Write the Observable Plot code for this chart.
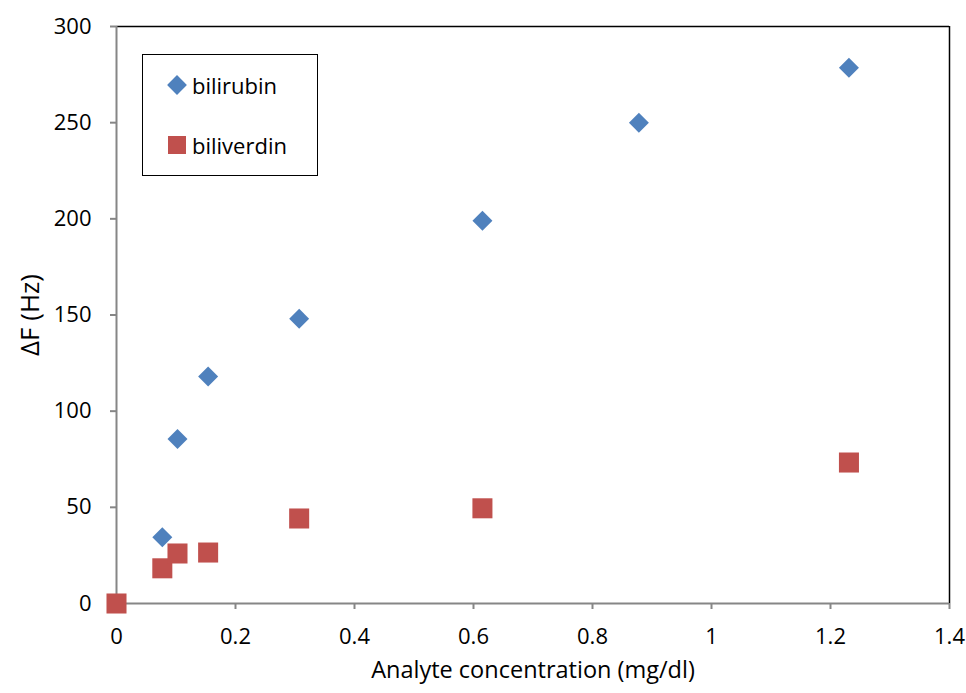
<!DOCTYPE html>
<html>
<head>
<meta charset="utf-8">
<script src="https://cdn.jsdelivr.net/npm/d3@7"></script>
<script src="https://cdn.jsdelivr.net/npm/@observablehq/plot@0.6"></script>
<style>
  html, body { margin: 0; padding: 0; background: #fff; }
  #wrap { position: relative; width: 966px; height: 693px; font-family: "Open Sans", Lato, sans-serif; }
  #legend { position: absolute; left: 142px; top: 54px; width: 176px; height: 122px; border: 1.5px solid #000; background: #fff; box-sizing: border-box; font-size: 22px; color: #000; }
  .li { position: absolute; left: 24px; display: flex; align-items: center; }
  .li svg { margin-right: 5px; }
</style>
</head>
<body>
<div id="wrap"></div>
<script>
const bilirubinX = [0.077, 0.1025, 0.154, 0.307, 0.615, 0.878, 1.231];
const bilirubinY = [34.5, 85.5, 118, 148, 199, 250, 278.5];
const biliverdinX = [0, 0.077, 0.1025, 0.154, 0.307, 0.615, 1.231];
const biliverdinY = [0, 18.3, 26, 26.5, 44.2, 49.5, 73.3];
const xTicks = [0, 0.2, 0.4, 0.6, 0.8, 1, 1.2, 1.4];
const yTicks = [0, 50, 100, 150, 200, 250, 300];
const seriesNames = ["bilirubin", "biliverdin"];
const colors = ["#4F81BD", "#C0504D"];
const xLabel = "Analyte concentration (mg/dl)";
const yLabel = "ΔF (Hz)";

const bilirubin = bilirubinX.map((x, i) => ({x, y: bilirubinY[i]}));
const biliverdin = biliverdinX.map((x, i) => ({x, y: biliverdinY[i]}));

const chart = Plot.plot({
  width: 966,
  height: 693,
  marginLeft: 116,
  marginRight: 17,
  marginTop: 26,
  marginBottom: 90,
  style: {fontFamily: '"Open Sans", Lato, sans-serif', fontSize: "22px", color: "#000", background: "#fff"},
  x: {domain: [0, 1.4], ticks: xTicks, tickFormat: d => String(d)},
  y: {domain: [0, 300], ticks: yTicks},
  marks: [
    Plot.ruleY([300], {stroke: "#000", strokeWidth: 1.5}),
    Plot.ruleX([1.4], {stroke: "#000", strokeWidth: 1.5}),
    Plot.ruleX([0], {stroke: "#868686", strokeWidth: 2}),
    Plot.ruleY([0], {stroke: "#868686", strokeWidth: 2}),
    Plot.axisX({ticks: xTicks, tickSize: 6, stroke: "#868686", strokeWidth: 2, tickPadding: 19, fontSize: 22, fill: "#000", label: null, tickFormat: d => String(d)}),
    Plot.axisY({ticks: yTicks, tickSize: 6, stroke: "#868686", strokeWidth: 2, tickPadding: 19, fontSize: 22, fill: "#000", label: null}),
    Plot.text([xLabel], {text: d => d, frameAnchor: "bottom", dy: 74, lineAnchor: "bottom", fontSize: 23.5, fill: "#000"}),
    Plot.text([yLabel], {text: d => d, frameAnchor: "left", dx: -86, rotate: -90, textAnchor: "middle", fontSize: 26, fill: "#000"}),
    Plot.dot(bilirubin, {x: "x", y: "y", symbol: "diamond2", r: 9, fill: colors[0], stroke: "none"}),
    Plot.dot(biliverdin, {x: "x", y: "y", symbol: "square", r: 11.3, fill: colors[1], stroke: "none"})
  ]
});
const wrap = document.getElementById("wrap");
wrap.appendChild(chart);

const legend = document.createElement("div");
legend.id = "legend";
legend.innerHTML = `
  <div class="li" style="top:15px"><svg width="20" height="20"><rect x="3" y="3" width="14" height="14" transform="rotate(45 10 10)" fill="${colors[0]}"/></svg>${seriesNames[0]}</div>
  <div class="li" style="top:75px"><svg width="20" height="20"><rect x="1" y="1" width="18" height="18" fill="${colors[1]}"/></svg>${seriesNames[1]}</div>`;
wrap.appendChild(legend);
</script>
</body>
</html>
